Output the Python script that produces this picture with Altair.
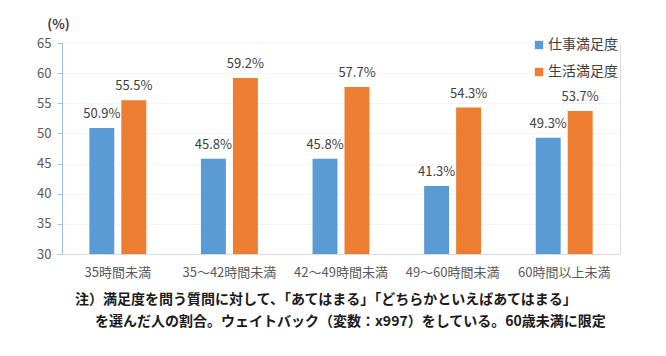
import altair as alt
import pandas as pd

categories = ["35時間未満", "35～42時間未満", "42～49時間未満", "49～60時間未満", "60時間以上未満"]
series = ["仕事満足度", "生活満足度"]
work = [50.9, 45.8, 45.8, 41.3, 49.3]
life = [55.5, 59.2, 57.7, 54.3, 53.7]
y_ticks = [30, 35, 40, 45, 50, 55, 60, 65]
note_line1 = "注）満足度を問う質問に対して、「あてはまる」「どちらかといえばあてはまる」"
note_line2 = "を選んだ人の割合。ウェイトバック（変数：x997）をしている。60歳未満に限定"

rows = []
for c, w, l in zip(categories, work, life):
    rows.append({"cat": c, "series": series[0], "value": w})
    rows.append({"cat": c, "series": series[1], "value": l})
df = pd.DataFrame(rows)

FONT = "Noto Sans CJK JP"

x = alt.X("cat:N", sort=categories,
          scale=alt.Scale(paddingInner=0.49, paddingOuter=0.245),
          axis=alt.Axis(title=None, labelAngle=0, ticks=False, domainColor="#d9d9d9",
                        labelColor="#595959", labelFontSize=13, labelPadding=12,
                        labelFont=FONT, grid=False))
xo = alt.XOffset("series:N", sort=series,
                 scale=alt.Scale(paddingInner=0.22, paddingOuter=0))
y = alt.Y("value:Q", scale=alt.Scale(domain=[30, 65], zero=False, clamp=True),
          axis=alt.Axis(values=y_ticks, title="(%)", titleAngle=0, titleX=-4, titleY=-12,
                        titleAlign="center", titleFontSize=13, titleFont=FONT,
                        titleColor="#404040", titleFontWeight="bold",
                        domainColor="#9dc3e6", tickColor="#9dc3e6", tickSize=5,
                        labelColor="#595959", labelFontSize=13, labelFont=FONT,
                        labelPadding=6, gridColor="#f4f4f4"))

bars = alt.Chart(df).mark_bar().encode(
    x=x, xOffset=xo, y=y,
    color=alt.Color("series:N", sort=series,
                    scale=alt.Scale(domain=series, range=["#5B9BD5", "#ED7D31"]),
                    legend=alt.Legend(title=None, orient="none", legendX=470, legendY=-5,
                                      symbolType="square", symbolSize=70,
                                      labelFontSize=14, labelFont=FONT, labelOffset=2,
                                      labelColor="#404040", rowPadding=13,
                                      symbolStrokeWidth=0)),
)

labels = alt.Chart(df).mark_text(baseline="bottom", dy=-7, fontSize=13, font=FONT,
                                 color="#404040").transform_calculate(
    label="format(datum.value, '.1f') + '%'"
).encode(x=x, xOffset=xo, y=y, text="label:N")

note1 = alt.Chart(pd.DataFrame({"t": [note_line1]})).mark_text(
    align="left", baseline="middle", fontSize=14, font=FONT, fontWeight="bold",
    color="#1a1a1a"
).encode(x=alt.value(13), y=alt.value(257), text="t:N")

note2 = alt.Chart(pd.DataFrame({"t": [note_line2]})).mark_text(
    align="left", baseline="middle", fontSize=14, font=FONT, fontWeight="bold",
    color="#1a1a1a"
).encode(x=alt.value(33), y=alt.value(279), text="t:N")

chart = alt.layer(bars, labels, note1, note2).properties(
    width=558, height=211,
    autosize=alt.AutoSizeParams(type="none"),
    padding={"left": 62, "top": 43, "right": 46, "bottom": 102},
).configure_view(stroke=None).configure(background="white")

chart.save("out.html", embed_options={"renderer": "svg", "actions": False})
